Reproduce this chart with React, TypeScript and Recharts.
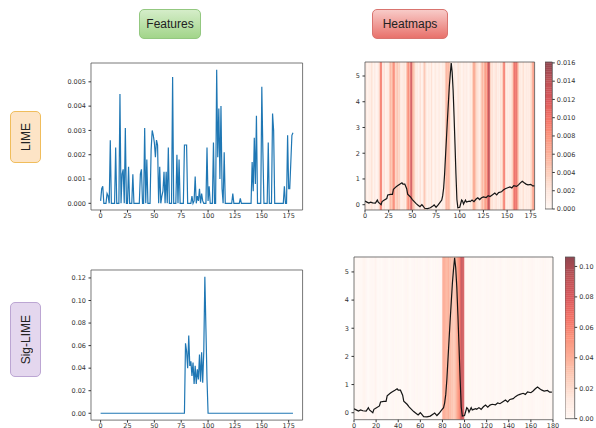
import React from 'react';
import { LineChart, Line, XAxis, YAxis, ReferenceArea } from 'recharts';

// ---------- data ----------
const LIME_FEATURES = [
  0.0001, 0.0006, 0.0007, 0, 0, 0, 0.0004, 0.0003, 0, 0.0026,
  0, 0, 0, 0, 0.0023, 0, 0, 0, 0.0045, 0,
  0.0012, 0.0014, 0, 0.0031, 0, 0, 0.0015, 0, 0, 0,
  0.0012, 0, 0, 0, 0, 0, 0, 0.0012, 0.0014, 0,
  0, 0.0031, 0, 0.0018, 0, 0, 0, 0.0022, 0.0030, 0.0028,
  0.0025, 0.0019, 0.0026, 0.0024, 0, 0.0015, 0, 0.0003, 0.0005, 0.0013,
  0, 0.0013, 0, 0.0023, 0, 0, 0, 0.0052, 0, 0,
  0, 0.0020, 0, 0.0018, 0, 0, 0, 0, 0.0024, 0.0024,
  0.0024, 0, 0, 0, 0, 0.0003, 0, 0.0001, 0.0011, 0,
  0.0003, 0.0001, 0.0006, 0, 0.0004, 0.0001, 0, 0, 0, 0.0023,
  0.0001, 0.0007, 0, 0, 0, 0.0025, 0, 0, 0.0055, 0.0019,
  0.0039, 0.0010, 0.0040, 0.0006, 0, 0.0021, 0, 0, 0, 0,
  0, 0, 0, 0.0004, 0, 0, 0, 0, 0, 0,
  0.0002, 0, 0, 0, 0, 0, 0, 0, 0, 0,
  0, 0.0017, 0.0005, 0.0027, 0.0008, 0.0036, 0, 0, 0, 0,
  0.0048, 0.0021, 0, 0, 0, 0, 0.0025, 0, 0, 0,
  0.0037, 0.0030, 0, 0, 0, 0, 0, 0, 0, 0,
  0, 0.0007, 0, 0, 0.0028, 0.0006, 0.0006, 0.0017, 0.0028, 0.0029,
];

const SIG_FEATURES = [
  0, 0, 0, 0, 0, 0, 0, 0, 0, 0,
  0, 0, 0, 0, 0, 0, 0, 0, 0, 0,
  0, 0, 0, 0, 0, 0, 0, 0, 0, 0,
  0, 0, 0, 0, 0, 0, 0, 0, 0, 0,
  0, 0, 0, 0, 0, 0, 0, 0, 0, 0,
  0, 0, 0, 0, 0, 0, 0, 0, 0, 0,
  0, 0, 0, 0, 0, 0, 0, 0, 0, 0,
  0, 0, 0, 0, 0, 0, 0, 0, 0, 0.062,
  0.055, 0.040, 0.069, 0.042, 0.046, 0.033, 0.045, 0.026, 0.042, 0.026,
  0.039, 0.030, 0.052, 0.028, 0.054, 0.027, 0.055, 0.121, 0.075, 0.030,
  0, 0, 0, 0, 0, 0, 0, 0, 0, 0,
  0, 0, 0, 0, 0, 0, 0, 0, 0, 0,
  0, 0, 0, 0, 0, 0, 0, 0, 0, 0,
  0, 0, 0, 0, 0, 0, 0, 0, 0, 0,
  0, 0, 0, 0, 0, 0, 0, 0, 0, 0,
  0, 0, 0, 0, 0, 0, 0, 0, 0, 0,
  0, 0, 0, 0, 0, 0, 0, 0, 0, 0,
  0, 0, 0, 0, 0, 0, 0, 0, 0, 0,
];

const LIME_HEAT = [
  0.001, 0.002, 0.001, 0.0005, 0.002, 0.001, 0.0015, 0.003, 0.001, 0.0005,
  0.002, 0.001, 0.0005, 0.001, 0.002, 0.003, 0.009, 0.010, 0.002, 0.001,
  0.003, 0.001, 0.0005, 0.002, 0.001, 0.002, 0.005, 0.006, 0.004, 0.007,
  0.009, 0.008, 0.003, 0.004, 0.005, 0.003, 0.004, 0.002, 0.001, 0.002,
  0.001, 0.003, 0.001, 0.002, 0.006, 0.008, 0.009, 0.005, 0.012, 0.013,
  0.006, 0.005, 0.004, 0.002, 0.001, 0.002, 0.0005, 0.001, 0.003, 0.001,
  0.0005, 0.002, 0.004, 0.005, 0.002, 0.001, 0.0005, 0.002, 0.001, 0.001,
  0.003, 0.001, 0.0005, 0.001, 0.002, 0.001, 0.0005, 0.001, 0.002, 0.001,
  0.0005, 0.001, 0.002, 0.001, 0.002, 0.005, 0.006, 0.005, 0.006, 0.005,
  0.002, 0.001, 0.0005, 0.001, 0.002, 0.001, 0.0005, 0.001, 0.003, 0.001,
  0.002, 0.001, 0.0005, 0.001, 0.002, 0.001, 0.001, 0.002, 0.001, 0.0005,
  0.001, 0.002, 0.001, 0.003, 0.006, 0.007, 0.005, 0.004, 0.002, 0.003,
  0.001, 0.002, 0.003, 0.005, 0.006, 0.004, 0.007, 0.008, 0.006, 0.010,
  0.014, 0.013, 0.004, 0.002, 0.003, 0.001, 0.002, 0.001, 0.003, 0.002,
  0.001, 0.002, 0.001, 0.003, 0.002, 0.004, 0.009, 0.010, 0.003, 0.001,
  0.002, 0.001, 0.002, 0.001, 0.003, 0.002, 0.006, 0.010, 0.011, 0.009,
  0.011, 0.006, 0.004, 0.001, 0.002, 0.001, 0.002, 0.003, 0.001, 0.001,
  0.002, 0.001, 0.002, 0.001, 0.002, 0.003, 0.004, 0.008, 0.007, 0.003,
];

const SIG_HEAT = [
  0, 0, 0, 0, 0, 0, 0, 0, 0.002, 0.003,
  0.002, 0.001, 0, 0, 0, 0, 0, 0, 0.001, 0.003,
  0.002, 0, 0, 0, 0, 0, 0, 0, 0, 0,
  0, 0, 0, 0, 0, 0, 0, 0, 0, 0,
  0, 0, 0, 0, 0, 0, 0, 0, 0, 0,
  0, 0, 0, 0, 0, 0, 0, 0, 0, 0,
  0, 0, 0, 0, 0, 0, 0, 0, 0, 0,
  0, 0, 0, 0, 0, 0, 0, 0, 0, 0,
  0.040, 0.045, 0.042, 0.038, 0.035, 0.040, 0.032, 0.036, 0.030, 0.034,
  0.028, 0.032, 0.036, 0.045, 0.050, 0.055, 0.075, 0.090, 0.085, 0.080,
  0, 0, 0, 0, 0, 0, 0, 0, 0, 0,
  0, 0, 0, 0, 0, 0, 0, 0, 0, 0,
  0, 0, 0, 0, 0, 0, 0, 0, 0, 0,
  0, 0, 0, 0, 0, 0, 0, 0, 0, 0,
  0, 0, 0, 0, 0, 0, 0, 0, 0, 0,
  0, 0, 0, 0, 0, 0, 0, 0, 0, 0,
  0, 0, 0, 0, 0, 0, 0, 0, 0, 0,
  0, 0, 0, 0, 0, 0, 0, 0, 0, 0,
];

const ECG_X = [
  0, 2, 4, 6, 8, 11, 13, 14, 17, 18, 20, 23, 24, 27, 29, 30, 33, 34, 37, 39,
  40, 42, 44, 45, 48, 50, 52, 54, 56, 58, 60, 61, 63, 66, 69, 72, 73, 75, 77, 79,
  81, 82, 83, 84, 85, 86, 87, 88, 89, 90, 91, 92, 93, 94, 95, 96, 97, 98, 100, 102,
  103, 104, 106, 107, 110, 111, 113, 115, 117, 119, 121, 123, 125, 128, 130, 132, 135, 137, 139, 141,
  144, 146, 148, 150, 153, 155, 157, 160, 162, 164, 166, 168, 170, 172, 175, 177, 179,
];
const ECG_Y = [
  0.14, 0.10, 0.06, 0.10, 0.07, 0.06, 0.18, 0.10, 0.00, 0.12, 0.17, 0.24, 0.38, 0.40, 0.40, 0.60, 0.70, 0.73, 0.80, 0.85,
  0.80, 0.80, 0.62, 0.41, 0.30, 0.20, 0.12, 0.04, -0.02, -0.08, 0.00, -0.04, -0.14, -0.15, -0.12, -0.04, -0.01, -0.10, -0.02, 0.08,
  0.18, 0.35, 0.65, 1.18, 1.90, 2.60, 3.30, 3.95, 4.60, 5.08, 5.50, 5.15, 4.45, 3.45, 2.35, 1.18, 0.20, -0.12, -0.10, 0.18,
  0.14, 0.02, 0.18, 0.10, 0.14, 0.12, 0.18, 0.12, 0.21, 0.27, 0.20, 0.27, 0.30, 0.28, 0.35, 0.32, 0.40, 0.45, 0.38, 0.47,
  0.50, 0.57, 0.62, 0.65, 0.69, 0.65, 0.74, 0.71, 0.77, 0.85, 0.91, 0.85, 0.80, 0.77, 0.79, 0.73, 0.73,
];

const FEAT_X_TICKS = [0, 25, 50, 75, 100, 125, 150, 175];
const LIME_Y_TICKS = [0, 0.001, 0.002, 0.003, 0.004, 0.005];
const SIG_Y_TICKS = [0, 0.02, 0.04, 0.06, 0.08, 0.1, 0.12];
const HEAT_Y_TICKS = [0, 1, 2, 3, 4, 5];
const HEAT_TOP_X_TICKS = [0, 25, 50, 75, 100, 125, 150, 175];
const HEAT_BOT_X_TICKS = [0, 20, 40, 60, 80, 100, 120, 140, 160, 180];
const CB_TOP_TICKS = [0, 0.002, 0.004, 0.006, 0.008, 0.01, 0.012, 0.014, 0.016];
const CB_BOT_TICKS = [0, 0.02, 0.04, 0.06, 0.08, 0.1];

// ---------- styles ----------
const REDS = [
  [255, 245, 240], [254, 224, 210], [252, 187, 161], [252, 146, 114], [251, 106, 74],
  [239, 59, 44], [203, 24, 29], [165, 15, 21], [103, 0, 13],
];
const ALPHA = 0.72;
function reds(t: number) {
  const tt = Math.max(0, Math.min(1, t));
  const p = tt * 8;
  const i = Math.min(7, Math.floor(p));
  const f = p - i;
  const c = REDS[i].map((v, k) => v + (REDS[i + 1][k] - v) * f);
  const b = c.map((v) => Math.round(v * ALPHA + 255 * (1 - ALPHA)));
  return `rgb(${b[0]},${b[1]},${b[2]})`;
}

const tickStyle = { fontSize: 6.5, fill: '#333', fontFamily: 'DejaVu Sans' };
const L = 44, T = 8, R = 10, B = 22;
const FRAME = '#555';

function Wrap({ r, children }: { r: number[]; children: (w: number, h: number) => any }) {
  const [x0, y0, x1, y1] = r;
  const w = x1 - x0 + L + R;
  const h = y1 - y0 + T + B;
  return (
    <div style={{ position: 'absolute', left: x0 - L, top: y0 - T, width: w, height: h }}>
      {children(w, h)}
    </div>
  );
}

function FeaturePanel({ r, values, xDom, yDom, yTicks, digits }: any) {
  const data = values.map((v: number, i: number) => ({ x: i, v }));
  return (
    <Wrap r={r}>
      {(w, h) => (
        <LineChart width={w} height={h} data={data} margin={{ top: T, right: R, bottom: 0, left: 0 }}>
          <XAxis dataKey="x" type="number" domain={xDom} ticks={FEAT_X_TICKS} allowDataOverflow
            tick={tickStyle} tickSize={2.5} tickMargin={1} axisLine={false} tickLine={{ stroke: '#333' }}
            height={B} interval={0} />
          <YAxis type="number" domain={yDom} ticks={yTicks} allowDataOverflow width={L}
            tick={tickStyle} tickSize={2.5} tickMargin={2.5} axisLine={false} tickLine={{ stroke: '#333' }}
            tickFormatter={(v: number) => v.toFixed(digits)} interval={0} />
          <Line dataKey="v" type="linear" stroke="#1f77b4" strokeWidth={1.2} dot={false} isAnimationActive={false} />
          <ReferenceArea x1={xDom[0]} x2={xDom[1]} y1={yDom[0]} y2={yDom[1]} fill="none" fillOpacity={0}
            stroke={FRAME} strokeWidth={0.8} ifOverflow="visible" />
        </LineChart>
      )}
    </Wrap>
  );
}

function HeatPanel({ r, heat, vmax, xDom, yDom, xTicks }: any) {
  const data = ECG_X.map((x, i) => ({ x, y: ECG_Y[i] }));
  return (
    <Wrap r={r}>
      {(w, h) => (
        <LineChart width={w} height={h} data={data} margin={{ top: T, right: R, bottom: 0, left: 0 }}>
          <XAxis dataKey="x" type="number" domain={xDom} ticks={xTicks} allowDataOverflow
            tick={tickStyle} tickSize={2.5} tickMargin={1} axisLine={false} tickLine={{ stroke: '#333' }}
            height={B} interval={0} />
          <YAxis type="number" domain={yDom} ticks={HEAT_Y_TICKS} allowDataOverflow width={L}
            tick={tickStyle} tickSize={2.5} tickMargin={2.5} axisLine={false} tickLine={{ stroke: '#333' }}
            interval={0} />
          {heat.map((v: number, i: number) => (
            <ReferenceArea key={i} x1={i} x2={i + 1} y1={yDom[0]} y2={yDom[1]} fill={reds(v / vmax)}
              fillOpacity={1} stroke={reds(v / vmax)} strokeWidth={0.4} ifOverflow="hidden" />
          ))}
          <ReferenceArea x1={xDom[0]} x2={xDom[1]} y1={yDom[0]} y2={yDom[1]} fill="none" fillOpacity={0}
            stroke={FRAME} strokeWidth={0.8} ifOverflow="visible" />
          <Line dataKey="y" type="linear" stroke="#151515" strokeWidth={1.2} dot={false} isAnimationActive={false} />
        </LineChart>
      )}
    </Wrap>
  );
}

function ColorBar({ r, vmax, ticks, digits }: any) {
  const [x0, y0, x1, y1] = r;
  const CW = 40;
  const w = x1 - x0 + CW;
  const h = y1 - y0 + T + 4;
  const steps = Array.from({ length: 80 }, (_, k) => k);
  const data = [{ x: 0, v: 0 }, { x: 1, v: vmax }];
  return (
    <div style={{ position: 'absolute', left: x0, top: y0 - T, width: w, height: h }}>
      <LineChart width={w} height={h} data={data} margin={{ top: T, right: 0, bottom: 4, left: 0 }}>
        <XAxis dataKey="x" type="number" domain={[0, 1]} hide />
        <YAxis orientation="right" type="number" domain={[0, vmax]} ticks={ticks} allowDataOverflow width={CW}
          tick={tickStyle} tickSize={2.5} tickMargin={2} axisLine={false} tickLine={{ stroke: '#333' }}
          tickFormatter={(v: number) => v.toFixed(digits)} interval={0} />
        {steps.map((k) => (
          <ReferenceArea key={k} x1={0} x2={1} y1={(k * vmax) / 80} y2={((k + 1) * vmax) / 80}
            fill={reds((k + 0.5) / 80)} fillOpacity={1} stroke={reds((k + 0.5) / 80)} strokeWidth={0.4}
            ifOverflow="hidden" />
        ))}
        <ReferenceArea x1={0} x2={1} y1={0} y2={vmax} fill="none" fillOpacity={0} stroke={FRAME}
          strokeWidth={0.8} ifOverflow="visible" />
      </LineChart>
    </div>
  );
}

const labelFont = "'Liberation Sans', Arial, sans-serif";

function HeaderBox({ left, top, width, height, bg, border, text }: any) {
  return (
    <div style={{
      position: 'absolute', left, top, width, height, boxSizing: 'border-box', borderRadius: 5,
      background: bg, border: `1px solid ${border}`, display: 'flex', alignItems: 'center',
      justifyContent: 'center', fontFamily: labelFont, fontSize: 12, color: '#222',
    }}>{text}</div>
  );
}

function SideBox({ left, top, width, height, bg, border, text }: any) {
  return (
    <div style={{
      position: 'absolute', left, top, width, height, boxSizing: 'border-box', borderRadius: 5,
      background: bg, border: `1px solid ${border}`, display: 'flex', alignItems: 'center',
      justifyContent: 'center', fontFamily: labelFont, fontSize: 12, color: '#222',
    }}>
      <span style={{ writingMode: 'vertical-rl', transform: 'rotate(180deg)' }}>{text}</span>
    </div>
  );
}

export default function App() {
  return (
    <div style={{ position: 'absolute', left: 0, top: 0, width: 596, height: 428, background: '#fff', overflow: 'hidden' }}>
      <HeaderBox left={139} top={9} width={62} height={30} bg="linear-gradient(#d5edc9, #a2d58a)" border="#93c880" text="Features" />
      <HeaderBox left={372} top={9} width={76} height={30} bg="linear-gradient(#f8cbc8, #e8716b)" border="#d9746f" text="Heatmaps" />
      <SideBox left={10} top={111} width={31} height={52} bg="#fde4c6" border="#f0bd5c" text="LIME" />
      <SideBox left={10} top={302} width={31} height={75} bg="#e4d7ee" border="#bca6d3" text="Sig-LIME" />

      <FeaturePanel r={[91.1, 63, 302.7, 210]} values={LIME_FEATURES} xDom={[-8.95, 187.95]}
        yDom={[-0.000275, 0.005775]} yTicks={LIME_Y_TICKS} digits={3} />
      <FeaturePanel r={[91.1, 270, 302.7, 420.1]} values={SIG_FEATURES} xDom={[-8.95, 187.95]}
        yDom={[-0.00605, 0.12705]} yTicks={SIG_Y_TICKS} digits={2} />

      <HeatPanel r={[364.7, 62, 534.3, 210]} heat={LIME_HEAT} vmax={0.0161} xDom={[0, 179]}
        yDom={[-0.206, 5.544]} xTicks={HEAT_TOP_X_TICKS} />
      <HeatPanel r={[354, 257.3, 553, 420]} heat={SIG_HEAT} vmax={0.1062} xDom={[0, 180]}
        yDom={[-0.248, 5.53]} xTicks={HEAT_BOT_X_TICKS} />

      <ColorBar r={[545, 62.3, 552.3, 209.3]} vmax={0.0161} ticks={CB_TOP_TICKS} digits={3} />
      <ColorBar r={[565.3, 257.3, 575, 419]} vmax={0.1062} ticks={CB_BOT_TICKS} digits={2} />
    </div>
  );
}
